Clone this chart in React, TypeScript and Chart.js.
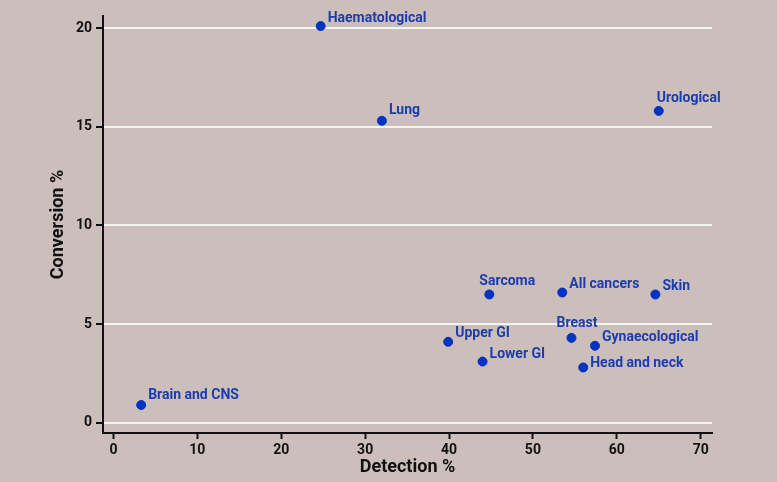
import React, { useEffect, useRef } from "react";
import { Chart, registerables } from "chart.js";

Chart.register(...registerables);

const categories = [
  "Haematological",
  "Lung",
  "Urological",
  "Sarcoma",
  "All cancers",
  "Skin",
  "Breast",
  "Gynaecological",
  "Upper GI",
  "Lower GI",
  "Head and neck",
  "Brain and CNS",
];
const detection = [24.7, 32.0, 65.0, 44.8, 53.5, 64.6, 54.6, 57.4, 39.9, 44.0, 56.0, 3.3];
const conversion = [20.1, 15.3, 15.8, 6.5, 6.6, 6.5, 4.3, 3.9, 4.1, 3.1, 2.8, 0.9];
const xTicks = [0, 10, 20, 30, 40, 50, 60, 70];
const yTicks = [0, 5, 10, 15, 20];

// label placement relative to each point (px): [dx to text start, dy to text middle]
const labelOffsets: [number, number][] = [
  [7, -8], [7, -10], [-2, -12], [-10, -13], [7, -8], [7, -8],
  [-15, -14], [7, -8], [7, -8], [7, -7], [7, -4], [7, -9],
];

const FONT = "Roboto, 'DejaVu Sans', sans-serif";
const BG = "#ccbebb";
const POINT = "#0033bf";
const TEXT_BLUE = "#1c3dab";

export default function App() {
  const ref = useRef<HTMLCanvasElement | null>(null);
  useEffect(() => {
    if (!ref.current) return;
    const labelPlugin = {
      id: "pointLabels",
      afterDatasetsDraw(chart: any) {
        const ctx = chart.ctx;
        const meta = chart.getDatasetMeta(0);
        ctx.save();
        ctx.font = `bold 14px ${FONT}`;
        ctx.fillStyle = TEXT_BLUE;
        ctx.textAlign = "left";
        ctx.textBaseline = "middle";
        meta.data.forEach((el: any, i: number) => {
          const [dx, dy] = labelOffsets[i];
          ctx.fillText(categories[i], el.x + dx, el.y + dy);
        });
        ctx.restore();
      },
    };
    const chart = new Chart(ref.current, {
      type: "scatter",
      data: {
        datasets: [
          {
            data: detection.map((x, i) => ({ x, y: conversion[i] })),
            backgroundColor: POINT,
            borderColor: POINT,
            pointRadius: 4.5,
            pointHoverRadius: 4.5,
          },
        ],
      },
      options: {
        animation: false,
        responsive: false,
        devicePixelRatio: 1,
        layout: { padding: { left: 0, top: 16, right: 65, bottom: 0 } },
        plugins: { legend: { display: false }, tooltip: { enabled: false } },
        scales: {
          x: {
            type: "linear",
            min: -1.25,
            max: 71.35,
            afterBuildTicks: (s: any) => {
              s.ticks = xTicks.map((v) => ({ value: v }));
            },
            afterFit: (s: any) => {
              s.height = 49;
            },
            grid: {
              drawOnChartArea: false,
              drawTicks: true,
              tickLength: 6,
              tickColor: "#111",
              tickWidth: 2,
            },
            border: { display: true, color: "#111", width: 2 },
            ticks: {
              color: "#111",
              padding: 3,
              font: { family: FONT, size: 14, weight: "bold" },
            },
            title: {
              display: true,
              text: "Detection %",
              color: "#111",
              padding: { top: 0, bottom: 4 },
              font: { family: FONT, size: 18, weight: "bold" },
            },
          },
          y: {
            type: "linear",
            min: -0.52,
            max: 20.61,
            afterBuildTicks: (s: any) => {
              s.ticks = yTicks.map((v) => ({ value: v }));
            },
            afterFit: (s: any) => {
              s.width = 103;
            },
            grid: {
              drawOnChartArea: true,
              drawTicks: true,
              tickLength: 7,
              color: "#eef6ee",
              lineWidth: 2,
              tickColor: "#111",
              tickWidth: 2,
            },
            border: { display: true, color: "#111", width: 2 },
            ticks: {
              color: "#111",
              padding: 4,
              font: { family: FONT, size: 14, weight: "bold" },
            },
            title: {
              display: true,
              text: "Conversion %",
              color: "#111",
              padding: { top: 48, bottom: 0 },
              font: { family: FONT, size: 18, weight: "bold" },
            },
          },
        },
      },
      plugins: [labelPlugin],
    } as any);
    return () => chart.destroy();
  }, []);
  return (
    <div
      style={{
        position: "fixed",
        left: 0,
        top: 0,
        width: 777,
        height: 482,
        background: BG,
      }}
    >
      <canvas ref={ref} width={777} height={482} style={{ display: "block" }} />
    </div>
  );
}
